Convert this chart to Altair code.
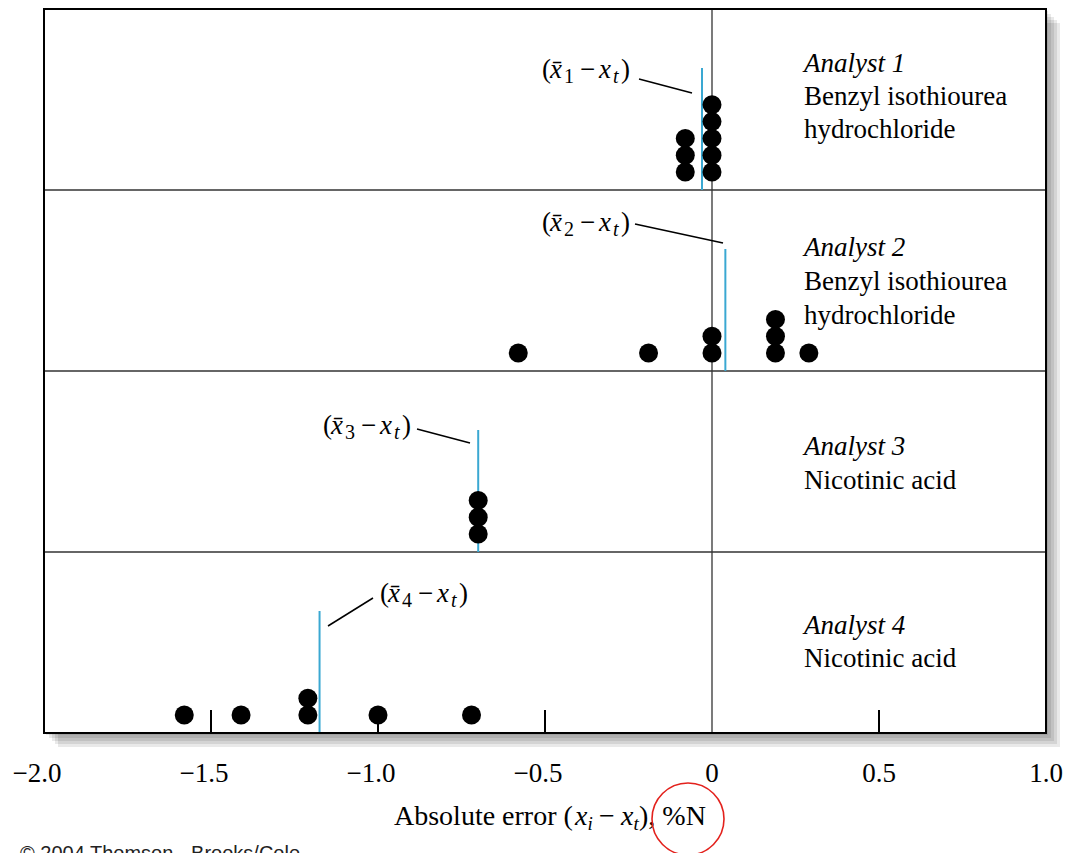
import altair as alt
import pandas as pd

# ---------------- data ----------------
analyst1 = [-0.08, -0.08, -0.08, 0.0, 0.0, 0.0, 0.0, 0.0]
analyst2 = [-0.58, -0.19, 0.0, 0.0, 0.19, 0.19, 0.19, 0.29]
analyst3 = [-0.70, -0.70, -0.70]
analyst4 = [-1.58, -1.41, -1.21, -1.21, -1.00, -0.72]
mean_errors = [-0.03, 0.04, -0.70, -1.175]
analyst_names = ["Analyst 1", "Analyst 2", "Analyst 3", "Analyst 4"]
compounds = [["Benzyl isothiourea", "hydrochloride"],
             ["Benzyl isothiourea", "hydrochloride"],
             ["Nicotinic acid"],
             ["Nicotinic acid"]]
mean_digits = ["1", "2", "3", "4"]
x_tick_values = [-2.0, -1.5, -1.0, -0.5, 0.0, 0.5, 1.0]
x_tick_labels = ["\u22122.0", "\u22121.5", "\u22121.0", "\u22120.5", "0", "0.5", "1.0"]
inner_tick_values = [-1.5, -1.0, -0.5, 0.5]
copyright_text = "\u00a9 2004 Thomson - Brooks/Cole"

# ---------------- layout (pixels of the 1070x853 page) ----------------
LEFT, TOP, W, H = 44, 9, 1002, 724
PX_X = W / 3.0          # pixels per unit of x
PX_Y = H / 4.0          # pixels per panel


def px_x(px):
    return -2.0 + (px - LEFT) / PX_X


def px_y(py):
    return (TOP + H - py) / PX_Y


DOT_D = 19
DOT_BOTTOM = 18
DOT_STEP = 16.8
MEAN_LINE_LEN = 122
TICK_LEN = 23

label_left_px = [542, 542, 323, 380]
label_base_px = [78, 231, 434, 602]
leader_px = [(639, 79, 692, 93), (635, 224, 723, 243),
             (417, 429, 470, 443), (328, 626, 373, 598)]
right_text_left_px = 804
right_text_base_px = [[72, 105, 138], [256, 290, 324], [455, 489], [634, 667]]
tick_label_base_px = 782

FONT = "Liberation Serif"
BLUE = "#3aa8d2"

xscale = alt.Scale(domain=[-2, 1], nice=False, zero=False)
yscale = alt.Scale(domain=[0, 4], nice=False, zero=False)


def X(f):
    return alt.X(f, type="quantitative", scale=xscale, axis=None)


def Y(f):
    return alt.Y(f, type="quantitative", scale=yscale, axis=None)


# ---------------- tables ----------------
rows = []
for p, vals in enumerate([analyst1, analyst2, analyst3, analyst4]):
    for v in vals:
        rows.append({"panel": p, "err": v})
dots = pd.DataFrame(rows)
dots["k"] = dots.groupby(["panel", "err"]).cumcount()
dots["y"] = (3 - dots["panel"]) + (DOT_BOTTOM + DOT_STEP * dots["k"]) / PX_Y

means = pd.DataFrame({"x": mean_errors,
                      "y": [3 - i for i in range(4)],
                      "y2": [3 - i + MEAN_LINE_LEN / PX_Y for i in range(4)]})

leaders = pd.DataFrame({"x": [px_x(a[0]) for a in leader_px], "y": [px_y(a[1]) for a in leader_px],
                        "x2": [px_x(a[2]) for a in leader_px], "y2": [px_y(a[3]) for a in leader_px]})

labels = pd.DataFrame({"x": [px_x(v) for v in label_left_px],
                       "y": [px_y(v) for v in label_base_px],
                       "digit": mean_digits})

rt = []
for i in range(4):
    lines = [analyst_names[i]] + compounds[i]
    for j, t in enumerate(lines):
        rt.append({"x": px_x(right_text_left_px), "y": px_y(right_text_base_px[i][j]),
                   "text": t, "italic": j == 0})
right_text = pd.DataFrame(rt)

tick_labels = pd.DataFrame({"x": x_tick_values, "text": x_tick_labels,
                            "y": [px_y(tick_label_base_px)] * len(x_tick_values)})
tick_labels["neg"] = tick_labels["x"] < 0

frame = pd.DataFrame({"x": [-2.0], "x2": [1.0], "y": [0.0], "y2": [4.0]})
dividers = pd.DataFrame({"y": [1.0, 2.0, 3.0], "x": [-2.0] * 3, "x2": [1.0] * 3})
zero_line = pd.DataFrame({"x": [0.0], "y": [0.0], "y2": [4.0]})
ticks = pd.DataFrame({"x": inner_tick_values, "y": [0.0] * 4, "y2": [TICK_LEN / PX_Y] * 4})

shadow_offsets = [2, 5, 8, 11, 14]
shadow = pd.DataFrame({"x": [-2 + o / PX_X for o in shadow_offsets],
                       "x2": [1 + o / PX_X for o in shadow_offsets],
                       "y": [-o / PX_Y for o in shadow_offsets],
                       "y2": [4 - o / PX_Y for o in shadow_offsets]})

title_anchor = pd.DataFrame({"x": [px_x(394)], "y": [px_y(825)]})
circle_df = pd.DataFrame({"x": [px_x(688)], "y": [px_y(819)]})
copy_df = pd.DataFrame({"x": [px_x(20)], "y": [px_y(860)], "text": [copyright_text]})

# ---------------- layers ----------------
layers = []
layers.append(alt.Chart(shadow).mark_rect(color="black", opacity=0.085).encode(
    x=X("x"), x2="x2", y=Y("y"), y2="y2"))
layers.append(alt.Chart(frame).mark_rect(color="white").encode(
    x=X("x"), x2="x2", y=Y("y"), y2="y2"))
layers.append(alt.Chart(dividers).mark_rule(color="#333333", strokeWidth=1.3).encode(
    x=X("x"), x2="x2", y=Y("y")))
layers.append(alt.Chart(zero_line).mark_rule(color="#333333", strokeWidth=1.3).encode(
    x=X("x"), y=Y("y"), y2="y2"))
layers.append(alt.Chart(ticks).mark_rule(color="black", strokeWidth=2).encode(
    x=X("x"), y=Y("y"), y2="y2"))
layers.append(alt.Chart(means).mark_rule(color=BLUE, strokeWidth=2).encode(
    x=X("x"), y=Y("y"), y2="y2"))
layers.append(alt.Chart(dots).mark_circle(color="black", opacity=1, size=DOT_D * DOT_D).encode(
    x=X("err"), y=Y("y")))
layers.append(alt.Chart(leaders).mark_rule(color="black", strokeWidth=1.5).encode(
    x=X("x"), x2="x2", y=Y("y"), y2="y2"))


def piece(df, text, dx, dy, size, italic, font=FONT, color="black", align="left"):
    mark = alt.Chart(df).mark_text(align=align, baseline="alphabetic", dx=dx, dy=dy,
                                   font=font, fontSize=size, color=color,
                                   fontStyle="italic" if italic else "normal")
    txt = alt.Text(text[1:], type="nominal") if text.startswith("@") else alt.value(text)
    return mark.encode(x=X("x"), y=Y("y"), text=txt)


# tick labels (the minus sign hangs left of the centred number)
layers.append(piece(tick_labels[tick_labels["neg"]], "@text", -7, 0, 27, False, align="center"))
layers.append(piece(tick_labels[~tick_labels["neg"]], "@text", 0, 0, 27, False, align="center"))

# mean labels  (x̄n − xt)
layers += [
    piece(labels, "(", 0, 0, 27, False),
    piece(labels, "x\u0304", 8, 0, 27, True),
    piece(labels, "@digit", 22, 5, 20, False),
    piece(labels, "\u2212", 38, 0, 27, False),
    piece(labels, "x", 57, 0, 27, True),
    piece(labels, "t", 71, 5, 20, True),
    piece(labels, ")", 79, 0, 27, False),
]

# right-hand panel text
layers.append(piece(right_text[right_text["italic"]], "@text", 0, 0, 27, True))
layers.append(piece(right_text[~right_text["italic"]], "@text", 0, 0, 27, False))

# axis title  Absolute error (xi − xt), %N
layers += [
    piece(title_anchor, "Absolute error (", 0, 0, 28, False),
    piece(title_anchor, "x", 181, 0, 28, True),
    piece(title_anchor, "i", 193.5, 5, 19, True),
    piece(title_anchor, "\u2212", 205, 0, 28, False),
    piece(title_anchor, "x", 227, 0, 28, True),
    piece(title_anchor, "t", 239.5, 5, 19, True),
    piece(title_anchor, "), %N", 245, 0, 28, False),
]

layers.append(piece(copy_df, "@text", 0, 0, 20, False, font="Liberation Sans", color="#222222"))

layers.append(alt.Chart(circle_df).mark_point(shape="circle", filled=False, size=72 * 72,
                                              color="#e3211c", strokeWidth=1.6, opacity=1).encode(
    x=X("x"), y=Y("y")))

# frame on top
layers.append(alt.Chart(frame).mark_rect(fillOpacity=0, stroke="black", strokeWidth=2).encode(
    x=X("x"), x2="x2", y=Y("y"), y2="y2"))

chart = alt.layer(*layers).properties(
    width=W, height=H,
    padding={"left": LEFT, "top": TOP, "right": 1070 - LEFT - W, "bottom": 853 - TOP - H},
    autosize=alt.AutoSizeParams(type="none"),
    background="white",
).configure_view(stroke=None)

chart.save("out.html", embed_options={"renderer": "svg", "actions": False})
